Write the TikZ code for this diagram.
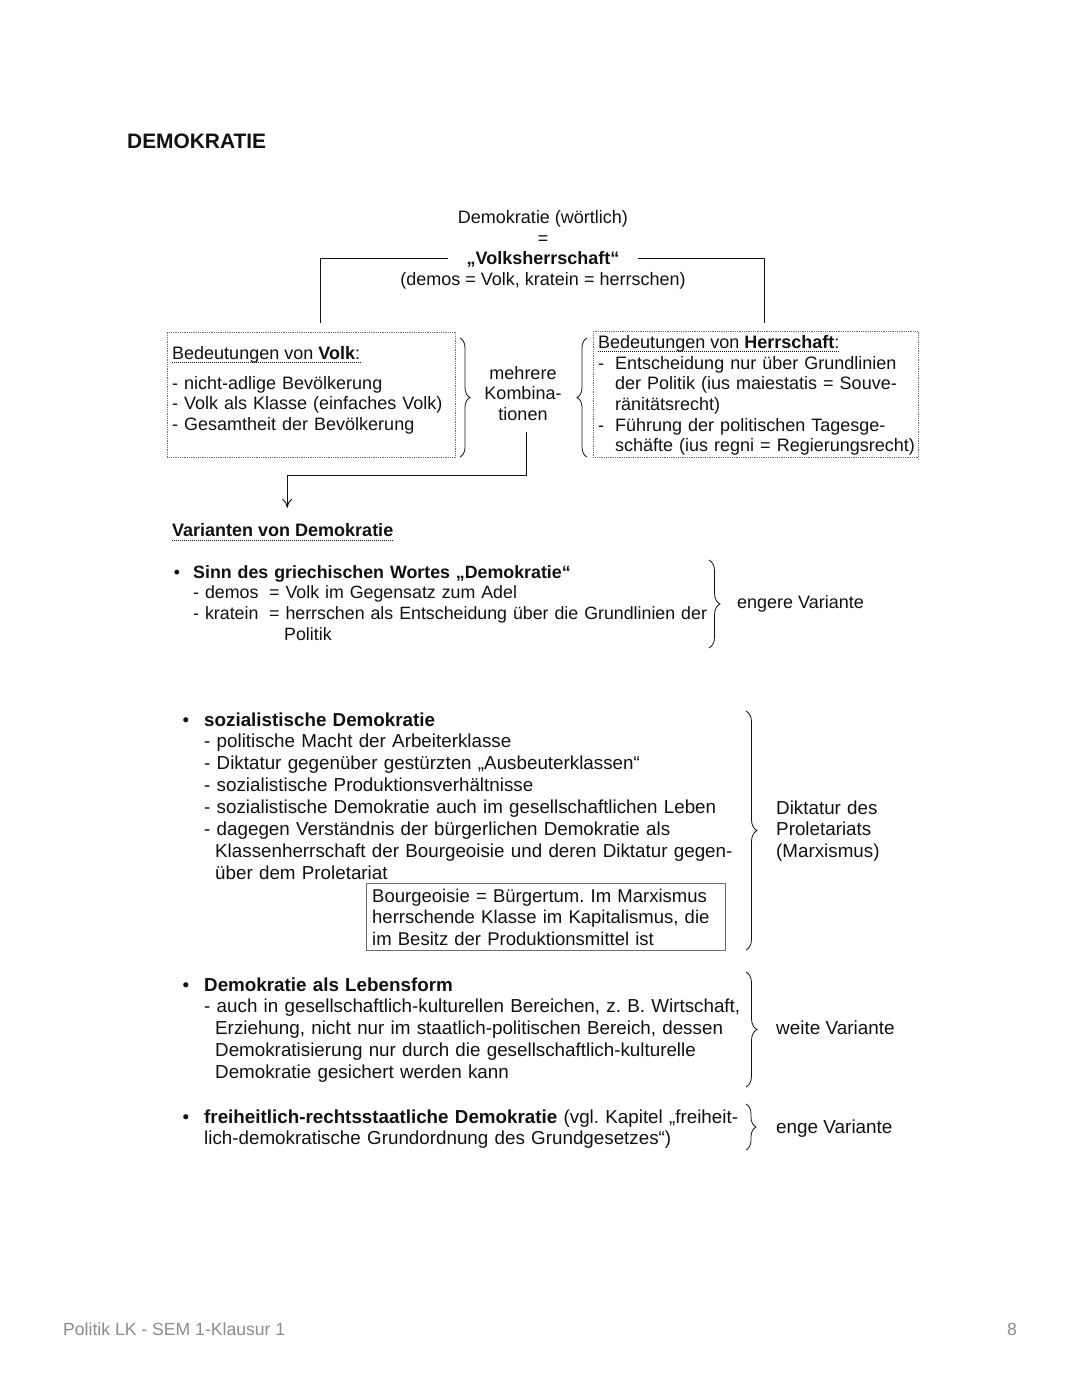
\documentclass[tikz,border=0pt]{standalone}
\usepackage{fontspec}
\setmainfont{Liberation Sans}
\frenchspacing
\usetikzlibrary{positioning,arrows.meta,calc,decorations.pathreplacing}
\definecolor{ink}    {HTML}{111111}
\definecolor{grey500}{HTML}{6E6E6E}
\definecolor{grey400}{HTML}{8C8C8C}
\newcommand{\bul}[1]{\llap{\textbullet\hspace{#1}}}
\newcommand{\hang}[1]{\makebox[#1][l]{-}}
\tikzset{
  blk/.style   ={text=ink, inner sep=0pt, anchor=base west, align=left,
                 text width=560pt, font=\fontsize{18}{20.7}\selectfont},
  blkw/.style  ={blk, font=\fontsize{18.8}{21.9}\selectfont},
  lbl/.style   ={text=ink, inner sep=0pt, anchor=base west,
                 font=\fontsize{18}{20.7}\selectfont},
  lblw/.style  ={lbl, font=\fontsize{18.9}{21.9}\selectfont},
  mid/.style   ={lbl, anchor=base},
  dotbox/.style={draw=grey500, densely dotted, line width=0.8pt,
                 anchor=north west, inner sep=0pt},
  notebox/.style={draw=grey500, line width=1pt, anchor=north west,
                 inner sep=0pt},
  ln/.style    ={draw=ink, line width=0.9pt},
  ar/.style    ={-{To[length=9pt,width=10pt]}, draw=ink, line width=0.9pt},
  brc/.style   ={draw=ink, line width=0.8pt, decorate,
                 decoration={brace, amplitude=#1}},
  brc/.default =10pt,
  uline/.style ={draw=ink, densely dotted, line width=1pt},
  foot/.style  ={text=grey400, inner sep=0pt, anchor=base west,
                 font=\fontsize{17.6}{20}\selectfont}
}

\begin{document}
\begin{tikzpicture}[x=1pt, y=-1pt]
\fill[white] (0,0) rectangle (1080,1397);
\useasboundingbox (0,0) rectangle (1080,1397);

\node[lbl, font=\fontsize{20.9}{24}\selectfont\bfseries] (title) at (127,148) {DEMOKRATIE};

% Wortbedeutung oben
\node[mid] (wl) at (543,223) {Demokratie (wörtlich)};
\node[mid] (eq) at (543,244) {=};
\node[mid, font=\fontsize{18}{20.7}\selectfont\bfseries, inner xsep=18pt] (vh) at (543,264)
  {„Volksherrschaft“};
\node[mid] (demos) at (543,285) {(demos = Volk, kratein = herrschen)};

\node[dotbox, minimum width=288, minimum height=125] (volk) at (167,332) {};
\node[dotbox, minimum width=325, minimum height=126] (herr) at (593,331) {};

\node[lbl] (volkhead) at (172,359) {Bedeutungen von \textbf{Volk}:};
\node[blk] (volklist) at (172,389)
  {- nicht-adlige Bevölkerung\\
   - Volk als Klasse (einfaches Volk)\\
   - Gesamtheit der Bevölkerung};

\node[lbl] (herrhead) at (598,348) {Bedeutungen von \textbf{Herrschaft}:};
\node[blk] (herrlist) at (598,369)
  {\hang{17pt}Entscheidung nur über Grundlinien\\
   \hspace*{17pt}der Politik (ius maiestatis = Souve-\\
   \hspace*{17pt}ränitätsrecht)\\
   \hang{17pt}Führung der politischen Tagesge-\\
   \hspace*{17pt}schäfte (ius regni = Regierungsrecht)};

\node[blk, align=center, text width=100pt, anchor=base] (kombi) at (523,379)
  {mehrere\\ Kombina-\\ tionen};

\draw[uline] ($(volkhead.base west)+(0,3)$) -- ($(volkhead.base east)+(0,3)$);
\draw[uline] ($(herrhead.base west)+(0,3)$) -- ($(herrhead.base east)+(0,3)$);

\draw[ln] (vh.west) -| ($(volk.north)+(9,-9)$);
\draw[ln] (vh.east) -| ($(herr.north)+(8.5,-8)$);
\draw[brc] (460,338) -- (460,457);
\draw[brc] (587,457) -- (587,338);

% Varianten
\node[lbl, font=\fontsize{18}{20.7}\selectfont\bfseries] (varhead) at (172,536)
  {Varianten von Demokratie};
\draw[uline] ($(varhead.base west)+(0,4)$) -- ($(varhead.base east)+(0,4)$);
\draw[ar] ($(kombi.south)+(3,11)$) -- ++(0,44) -| ($(varhead.north)+(4.5,-15)$);

\node[blk, font=\fontsize{17.8}{20.7}\selectfont] (sinn) at (193,578)
  {\bul{13pt}\textbf{Sinn des griechischen Wortes „Demokratie“}\\
   \makebox[76pt][l]{- demos}= Volk im Gegensatz zum Adel\\
   \makebox[76pt][l]{- kratein}= herrschen als Entscheidung über die Grundlinien der\\
   \hspace*{91pt}Politik};
\draw[brc=11pt] (709,560) -- (709,648);
\node[lbl] (engere) at (737,608) {engere Variante};

\node[blkw] (sozi) at (204,726)
  {\bul{15pt}\textbf{sozialistische Demokratie}\\
   - politische Macht der Arbeiterklasse\\
   - Diktatur gegenüber gestürzten „Ausbeuterklassen“\\
   - sozialistische Produktionsverhältnisse\\
   - sozialistische Demokratie auch im gesellschaftlichen Leben\\
   - dagegen Verständnis der bürgerlichen Demokratie als\\
   \hspace*{11pt}Klassenherrschaft der Bourgeoisie und deren Diktatur gegen-\\
   \hspace*{11pt}über dem Proletariat};
\node[notebox, minimum width=359, minimum height=67] (bourg) at (366,883) {};
\node[blk, font=\fontsize{18.5}{21.5}\selectfont] (bourgtxt) at (372,902)
  {Bourgeoisie = Bürgertum. Im Marxismus\\
   herrschende Klasse im Kapitalismus, die\\
   im Besitz der Produktionsmittel ist};
\draw[brc=11pt] (746,711) -- (746,950);
\node[blkw] (prol) at (776,814) {Diktatur des\\ Proletariats\\ (Marxismus)};

\node[blkw] (leben) at (204,991)
  {\bul{15pt}\textbf{Demokratie als Lebensform}\\
   - auch in gesellschaftlich-kulturellen Bereichen, z. B. Wirtschaft,\\
   \hspace*{11pt}Erziehung, nicht nur im staatlich-politischen Bereich, dessen\\
   \hspace*{11pt}Demokratisierung nur durch die gesellschaftlich-kulturelle\\
   \hspace*{11pt}Demokratie gesichert werden kann};
\draw[brc=11pt] (746,972) -- (746,1087);
\node[lblw] (weite) at (776,1034) {weite Variante};

\node[blkw] (frei) at (204,1123)
  {\bul{15pt}\textbf{freiheitlich-rechtsstaatliche Demokratie} (vgl. Kapitel „freiheit-\\
   lich-demokratische Grundordnung des Grundgesetzes“)};
\draw[brc=10pt] (746,1104) -- (746,1150);
\node[lblw] (enge) at (776,1133) {enge Variante};

\node[foot] (fusszeile) at (63,1335) {Politik LK - SEM 1-Klausur 1};
\node[foot, anchor=base east] (seite) at (1017,1335) {8};
\end{tikzpicture}
\end{document}
